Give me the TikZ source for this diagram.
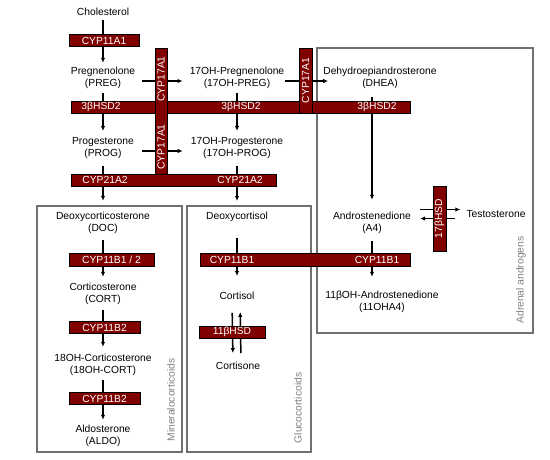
\documentclass[tikz,border=0pt]{standalone}
\usepackage{fontspec}
\setmainfont{Liberation Sans}
\usetikzlibrary{arrows.meta,calc}
\definecolor{enzred}{HTML}{800000}
\definecolor{boxgray}{HTML}{707070}
\begin{document}
\begin{tikzpicture}[x=1pt,y=-1pt,
    font=\fontsize{10.3}{12.5}\selectfont,
    cmpd/.style={align=center, inner sep=2pt},
    enz/.style={draw=black, line width=0.7pt, fill=enzred, text=white, inner sep=0pt, minimum height=12pt},
    enztext/.style={text=white, inner sep=0pt},
    grp/.style={draw=boxgray, line width=1.6pt},
    grplabel/.style={text=gray, rotate=90, inner sep=0pt},
    arr/.style={line width=1.5pt, -{Latex[length=5pt,width=4.5pt]}}]
    \useasboundingbox (0,0) rectangle (550,459);
    \draw[grp] (37,206) rectangle (182,452);
    \draw[grp] (187,206) rectangle (311,452);
    \draw[grp] (317,48) rectangle (533,333);
    \node[grplabel] (lmin) at (171,400) {Mineralocorticoids};
    \node[grplabel] (lglu) at (298,408) {Glucocorticoids};
    \node[grplabel] (land) at (521,280) {Adrenal androgens};
	\node[cmpd] (chol) at (103,12) {Cholesterol};
	\node[cmpd] (preg) at (103,78) {Pregnenolone\\(PREG)};
	\node[cmpd] (ohpreg) at (237,78) {17OH-Pregnenolone\\(17OH-PREG)};
	\node[cmpd] (dhea) at (380,78) {Dehydroepiandrosterone\\(DHEA)};
	\node[cmpd] (prog) at (103,148) {Progesterone\\(PROG)};
	\node[cmpd] (ohprog) at (237,148) {17OH-Progesterone\\(17OH-PROG)};
	\node[cmpd] (doc) at (103,223) {Deoxycorticosterone\\(DOC)};
	\node[cmpd] (cort) at (103,294) {Corticosterone\\(CORT)};
	\node[cmpd] (ohcort) at (103,365) {18OH-Corticosterone\\(18OH-CORT)};
	\node[cmpd] (aldo) at (103,436) {Aldosterone\\(ALDO)};
	\node[cmpd] (deoxy) at (237,217) {Deoxycortisol};
	\node[cmpd] (cortisol) at (237,296) {Cortisol};
	\node[cmpd] (cortisone) at (238,366) {Cortisone};
	\node[cmpd] (andro) at (372,223) {Androstenedione\\(A4)};
	\node[cmpd] (testo) at (496,214) {Testosterone};
	\node[cmpd] (ohandro) at (382,302) {11βOH-Androstenedione\\(11OHA4)};
	\draw[arr, shorten <=2pt, shorten >=2pt] (chol) -- (preg);
	\draw[arr, shorten <=2pt, shorten >=4pt] (preg) -- (prog);
	\draw[arr, shorten <=2pt, shorten >=4pt] (ohpreg) -- (ohprog);
	\draw[arr, shorten <=5pt, shorten >=9pt] (prog) -- (doc);
	\draw[arr, shorten <=5pt, shorten >=9pt] (ohprog) -- (deoxy);
	\draw[arr, shorten <=4pt, shorten >=4pt] (doc) -- (cort);
	\draw[arr, shorten <=3pt, shorten >=5pt] (cort) -- (ohcort);
	\draw[arr, shorten <=2pt, shorten >=3pt] (ohcort) -- (aldo);
	\draw[arr, shorten <=14pt, shorten >=14pt] (deoxy) -- (cortisol);
	\draw[arr, shorten <=11pt, shorten >=7pt] ([xshift=-5pt]cortisol.south) -- ([xshift=-5pt]cortisone.north);
	\draw[arr, shorten <=7pt, shorten >=10pt] ([xshift=3pt]cortisone.north) -- ([xshift=3pt]cortisol.south);
	\draw[arr, shorten <=6pt, shorten >=10pt] (dhea.south -| andro) -- (andro);
	\draw[arr, shorten <=5pt, shorten >=12pt] (andro) -- (andro |- ohandro.north);
	\draw[arr] ([xshift=5pt,yshift=-3pt]preg.east) -- ([xshift=-5pt,yshift=-3pt]ohpreg.west);
	\draw[arr] ([xshift=6pt,yshift=-3pt]prog.east) -- ([xshift=-6pt,yshift=-3pt]ohprog.west);
	\draw[arr] ([xshift=-1pt,yshift=-3pt]ohpreg.east) -- ([xshift=7pt,yshift=-3pt]dhea.west);
	\draw[arr] ($(andro.east |- testo.west)+(7,-4.5)$) -- ($(testo.west)+(-4,-4.5)$);
	\draw[arr] ($(testo.west)+(-9,4.5)$) -- ($(andro.east |- testo.west)+(7,4.5)$);
	\node[enz, minimum width=70pt] (e11a1) at (104,40.5) {CYP11A1};
	\node[enz, minimum width=339pt] (e3b) at (240.5,107) {};
	\node[enztext] (e3bt1) at (101,107) {3βHSD2};
	\node[enztext] (e3bt2) at (241,107) {3βHSD2};
	\node[enztext] (e3bt3) at (377,107) {3βHSD2};
	\node[enz, minimum width=205pt] (e21) at (173.5,180) {};
	\node[enztext] (e21t1) at (105,180) {CYP21A2};
	\node[enztext] (e21t2) at (240,180) {CYP21A2};
	\node[enz, rotate=90, minimum width=126pt] (e17a) at (161,111) {};
	\node[enztext, rotate=90] (e17at1) at (161,79) {CYP17A1};
	\node[enztext, rotate=90] (e17at2) at (161,147) {CYP17A1};
	\node[enz, rotate=90, minimum width=65pt, minimum height=13pt] (e17b) at (305.5,80.5) {CYP17A1};
	\node[enz, minimum width=85pt, minimum height=13pt] (e11b12) at (111.5,259.5) {CYP11B1 / 2};
	\node[enz, minimum width=71pt] (e11b2a) at (104.5,327.5) {CYP11B2};
	\node[enz, minimum width=71pt] (e11b2b) at (104.5,398.5) {CYP11B2};
	\node[enz, minimum width=210pt, minimum height=13pt] (e11b1) at (305,259.5) {};
	\node[enztext] (e11b1t1) at (232,259.5) {CYP11B1};
	\node[enztext] (e11b1t2) at (377,259.5) {CYP11B1};
	\node[enz, minimum width=66pt] (e11bhsd) at (232,332) {11βHSD};
	\node[enz, rotate=90, minimum width=65pt, minimum height=13pt] (e17bhsd) at (439.5,218.5) {17βHSD};
\end{tikzpicture}
\end{document}
